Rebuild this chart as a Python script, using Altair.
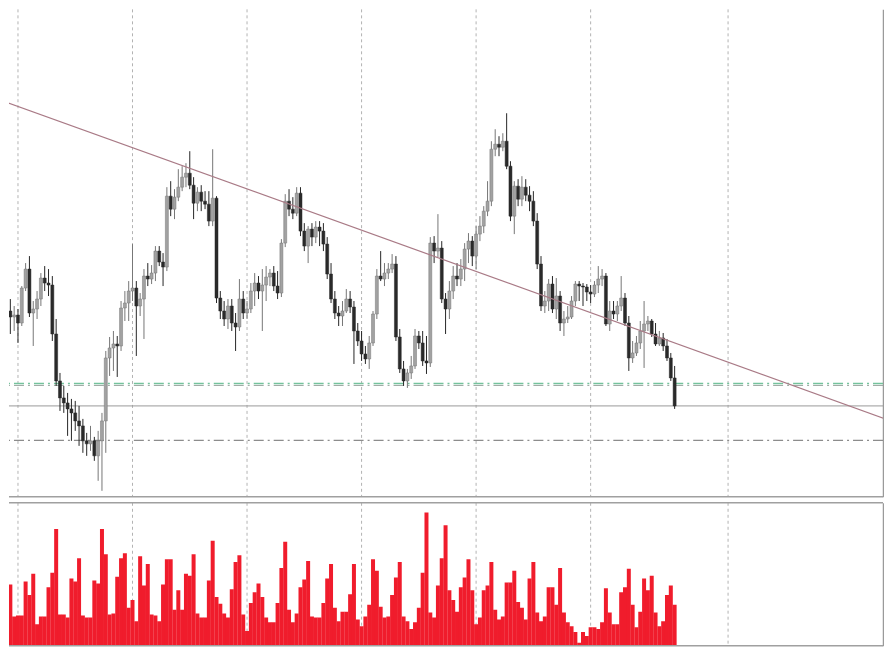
import altair as alt
import pandas as pd

# ---- candle data (price units, arbitrary scale; higher = up) ----
OPEN = [188, 182, 190, 184, 186, 178, 213, 232, 188, 192,
        202, 223, 218, 216, 167, 120, 103, 98, 92, 88,
        80, 75, 60, 57, 60, 45, 60, 80, 143, 153,
        157, 155, 193, 198, 210, 213, 195, 202, 225, 222,
        228, 250, 239, 234, 305, 292, 304, 314, 324, 328,
        316, 298, 309, 300, 297, 280, 303, 203, 190, 182,
        195, 178, 174, 202, 188, 192, 210, 218, 210, 216,
        224, 228, 215, 208, 258, 300, 292, 288, 308, 270,
        255, 272, 264, 274, 270, 257, 227, 202, 188, 185,
        190, 202, 194, 170, 160, 147, 142, 158, 187, 225,
        222, 228, 232, 237, 164, 132, 120, 128, 135, 165,
        158, 140, 138, 258, 250, 253, 202, 192, 210, 225,
        222, 232, 252, 260, 245, 267, 275, 290, 300, 352,
        357, 354, 360, 335, 285, 315, 302, 314, 306, 300,
        280, 237, 195, 200, 217, 192, 205, 178, 182, 184,
        200, 217, 215, 214, 209, 207, 216, 222, 225, 177,
        190, 187, 195, 203, 178, 143, 148, 158, 170, 177,
        180, 167, 157, 163, 155, 143, 123]
HIGH = [205, 200, 202, 195, 192, 215, 238, 245, 200, 210,
        228, 235, 232, 225, 182, 128, 115, 108, 102, 100,
        95, 82, 68, 75, 64, 70, 88, 150, 164, 170,
        165, 200, 210, 220, 257, 220, 208, 232, 238, 236,
        255, 255, 248, 314, 320, 312, 332, 335, 338, 350,
        324, 314, 316, 310, 310, 352, 305, 210, 200, 202,
        202, 188, 222, 210, 200, 218, 228, 225, 232, 235,
        232, 235, 230, 262, 307, 312, 304, 314, 314, 278,
        275, 278, 280, 280, 278, 264, 238, 210, 195, 200,
        212, 210, 200, 178, 170, 155, 165, 190, 232, 250,
        238, 238, 247, 245, 172, 140, 132, 145, 172, 170,
        170, 165, 264, 265, 287, 260, 208, 220, 235, 238,
        242, 258, 268, 265, 275, 285, 295, 320, 360, 372,
        365, 368, 388, 340, 320, 322, 325, 322, 315, 310,
        288, 245, 210, 222, 225, 223, 210, 190, 195, 205,
        220, 220, 218, 217, 216, 220, 235, 232, 228, 200,
        200, 200, 225, 208, 185, 160, 165, 180, 200, 185,
        182, 178, 170, 168, 162, 148, 135]
LOW = [170, 165, 167, 170, 158, 175, 210, 184, 155, 182,
       195, 210, 205, 160, 115, 90, 88, 65, 60, 70,
       55, 48, 45, 50, 40, 20, 10, 48, 125, 130,
       124, 150, 180, 180, 200, 145, 185, 162, 215, 217,
       220, 235, 215, 230, 285, 282, 300, 310, 314, 312,
       282, 290, 290, 292, 275, 275, 198, 182, 175, 172,
       170, 150, 170, 182, 182, 188, 195, 202, 170, 200,
       215, 210, 202, 204, 254, 285, 282, 285, 265, 250,
       238, 255, 258, 255, 250, 222, 198, 182, 175, 175,
       188, 188, 137, 155, 140, 137, 132, 155, 182, 220,
       215, 222, 228, 160, 128, 115, 113, 122, 132, 152,
       135, 127, 134, 238, 244, 198, 167, 182, 202, 215,
       215, 220, 238, 235, 232, 260, 268, 285, 295, 345,
       345, 350, 332, 280, 267, 295, 295, 300, 290, 275,
       232, 190, 188, 190, 188, 182, 170, 165, 178, 182,
       195, 200, 195, 200, 198, 204, 208, 215, 175, 170,
       182, 180, 190, 175, 130, 138, 145, 152, 133, 170,
       164, 155, 155, 150, 140, 120, 92]
CLOSE = [182, 190, 184, 186, 178, 213, 232, 188, 192, 202,
         223, 218, 216, 167, 120, 103, 98, 92, 88, 80,
         75, 60, 57, 60, 45, 60, 80, 143, 153, 157,
         155, 193, 198, 210, 213, 195, 202, 225, 222, 228,
         250, 239, 234, 305, 292, 304, 314, 324, 328, 316,
         298, 309, 300, 297, 280, 303, 203, 190, 182, 195,
         178, 174, 202, 188, 192, 210, 218, 210, 216, 224,
         228, 215, 208, 258, 300, 292, 288, 308, 270, 255,
         272, 264, 274, 270, 257, 227, 202, 188, 185, 190,
         202, 194, 170, 160, 147, 142, 158, 187, 225, 222,
         228, 232, 237, 164, 132, 120, 128, 135, 165, 158,
         140, 138, 258, 250, 253, 202, 192, 210, 225, 222,
         232, 252, 260, 245, 267, 275, 290, 300, 352, 357,
         354, 360, 335, 285, 315, 302, 314, 306, 300, 280,
         237, 195, 200, 217, 192, 205, 178, 182, 184, 200,
         217, 215, 214, 209, 207, 216, 222, 225, 177, 190,
         187, 195, 203, 178, 143, 148, 158, 170, 177, 180,
         167, 157, 163, 155, 143, 123, 95]
VOLUME = [59, 57, 63, 30, 31, 31, 66, 52, 74, 22,
          30, 30, 60, 75, 120, 32, 32, 29, 69, 66,
          90, 31, 29, 29, 67, 64, 120, 94, 32, 33,
          71, 90, 95, 39, 47, 25, 92, 62, 84, 32,
          31, 25, 63, 89, 89, 37, 57, 37, 74, 72,
          94, 33, 29, 29, 67, 108, 50, 43, 33, 29,
          58, 86, 93, 32, 15, 44, 55, 64, 50, 29,
          24, 24, 44, 80, 107, 37, 24, 33, 60, 68,
          87, 30, 29, 29, 44, 69, 84, 39, 25, 35,
          35, 53, 84, 27, 20, 30, 42, 89, 77, 40,
          29, 30, 52, 70, 86, 30, 25, 17, 24, 39,
          75, 137, 34, 29, 62, 90, 124, 57, 47, 35,
          60, 70, 89, 57, 22, 29, 57, 62, 86, 37,
          27, 30, 65, 65, 77, 45, 39, 27, 69, 86,
          34, 25, 30, 60, 60, 42, 80, 34, 24, 20,
          14, 3, 14, 10, 19, 19, 17, 24, 59, 34,
          22, 22, 55, 60, 79, 42, 19, 35, 69, 57,
          72, 34, 20, 25, 52, 62, 42]

GRID_BARS = [4, 34, 64, 94, 124, 154, 190]
TREND_BAR = [-0.44, 231.9]
TREND_PRICE = [401, 81]
GREEN_LEVEL = [117.5]
GREY_DASH_LEVELS = [115.5]
SOLID_LEVEL = [95]
DASHDOT_LEVEL = [60.5]

n = len(OPEN)
df = pd.DataFrame({
    "bar": list(range(n)),
    "open": OPEN, "high": HIGH, "low": LOW, "close": CLOSE,
    "volume": VOLUME,
})
df["dir"] = ["up" if c >= o else "down" for o, c in zip(OPEN, CLOSE)]

grid_df = pd.DataFrame({"bar": GRID_BARS})
trend_df = pd.DataFrame({"bar": TREND_BAR, "price": TREND_PRICE})

W, H1, H2 = 875, 488, 143
xs = alt.Scale(domain=[1.648, 230.58], nice=False, zero=False, padding=0)
ys = alt.Scale(domain=[4, 492], nice=False, zero=False, padding=0)
vs = alt.Scale(domain=[0, 147], nice=False, zero=False, padding=0)

price_axis = alt.Axis(orient="right", labels=False, ticks=False, grid=False,
                      domainColor="#9a9a9a", domainWidth=1.5)
vol_axis = alt.Axis(orient="right", labels=False, ticks=False, grid=False,
                    domainColor="#9a9a9a", domainWidth=1.5)

X = alt.X("bar:Q", scale=xs, axis=None)
dir_scale_fill = alt.Scale(domain=["up", "down"], range=["#a2a2a2", "#2a2a2a"])
dir_scale_line = alt.Scale(domain=["up", "down"], range=["#767676", "#262626"])

grid_p = alt.Chart(grid_df).mark_rule(color="#b3b3b3", strokeDash=[3, 3], strokeWidth=1).encode(x=X)


def level(vals, color, dash, width=1.0):
    d = pd.DataFrame({"price": vals})
    m = dict(color=color, strokeWidth=width)
    if dash:
        m["strokeDash"] = dash
    return alt.Chart(d).mark_rule(**m).encode(
        y=alt.Y("price:Q", scale=ys, axis=price_axis, title=None))


lv_green = level(GREEN_LEVEL, "#74c29c", [10, 4, 2, 4], 1.4)
lv_grey = level(GREY_DASH_LEVELS, "#9aa69f", [10, 4, 2, 4], 1.0)
lv_solid = level(SOLID_LEVEL, "#9a9a9a", None, 1.0)
lv_dd = level(DASHDOT_LEVEL, "#8c8c8c", [10, 4, 2, 4], 1.2)

wicks = alt.Chart(df).mark_rule(strokeWidth=1, clip=True).encode(
    x=X,
    y=alt.Y("low:Q", scale=ys, axis=price_axis, title=None),
    y2="high:Q",
    color=alt.Color("dir:N", scale=dir_scale_line, legend=None),
)
bodies = alt.Chart(df).mark_bar(size=3, strokeWidth=0.5, clip=True).encode(
    x=X,
    y=alt.Y("open:Q", scale=ys, axis=price_axis, title=None),
    y2="close:Q",
    fill=alt.Fill("dir:N", scale=dir_scale_fill, legend=None),
    stroke=alt.Stroke("dir:N", scale=dir_scale_line, legend=None),
)
trend = alt.Chart(trend_df).mark_line(color="#a97a86", strokeWidth=1.2, clip=True).encode(
    x=X, y=alt.Y("price:Q", scale=ys, axis=price_axis, title=None))

one = pd.DataFrame({"a": [0]})
price_bottom = alt.Chart(one).mark_rule(color="#a0a0a0", strokeWidth=1.5).encode(
    x=alt.value(0), x2=alt.value(W), y=alt.value(H1))

price = alt.layer(grid_p, lv_solid, lv_dd, lv_grey, lv_green, wicks, bodies, trend,
                  price_bottom).properties(width=W, height=H1)

grid_v = alt.Chart(grid_df).mark_rule(color="#b3b3b3", strokeDash=[3, 3], strokeWidth=1).encode(x=X)
vol_bars = alt.Chart(df).mark_bar(size=4, color="#f01c2c", clip=True).encode(
    x=X, y=alt.Y("volume:Q", scale=vs, axis=vol_axis, title=None))
vol_top = alt.Chart(one).mark_rule(color="#a0a0a0", strokeWidth=1.5).encode(
    x=alt.value(0), x2=alt.value(W), y=alt.value(0))
vol_bottom = alt.Chart(one).mark_rule(color="#a0a0a0", strokeWidth=1.5).encode(
    x=alt.value(0), x2=alt.value(W), y=alt.value(H2))

volume = alt.layer(grid_v, vol_bars, vol_top, vol_bottom).properties(width=W, height=H2)

chart = alt.vconcat(price, volume, spacing=4).properties(
    padding=0, background="white"
).configure_view(strokeWidth=0)

chart.save("out.html", embed_options={"renderer": "svg", "actions": False})
